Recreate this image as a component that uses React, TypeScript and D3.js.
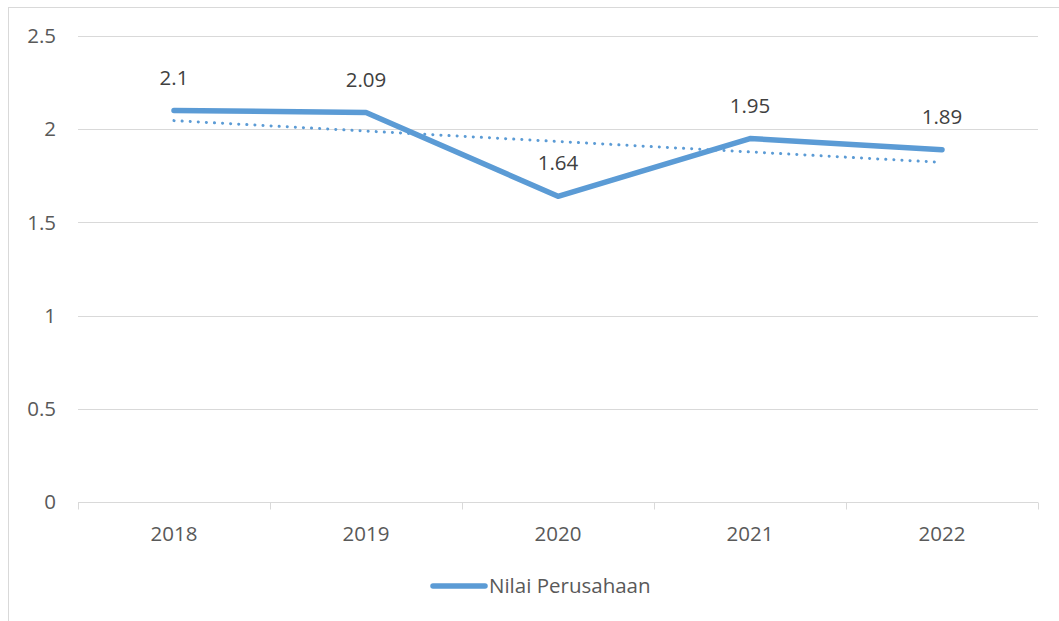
import React, { useEffect, useRef } from 'react';
import * as d3 from 'd3';

const years = ['2018', '2019', '2020', '2021', '2022'];
const nilaiPerusahaan = [2.1, 2.09, 1.64, 1.95, 1.89];
const yTicks = [0, 0.5, 1, 1.5, 2, 2.5];
const seriesName = 'Nilai Perusahaan';

const App = () => {
  const svgRef = useRef<SVGSVGElement | null>(null);

  useEffect(() => {
    const width = 1059;
    const height = 621;
    const margin = { top: 36, right: 21, bottom: 119, left: 78 };
    const innerW = width - margin.left - margin.right;
    const innerH = height - margin.top - margin.bottom;
    const font = "'Open Sans', 'Noto Sans', sans-serif";
    const fontSize = 20.5;
    const textColor = '#595959';
    const blue = '#5b9bd5';

    const root = d3.select(svgRef.current);
    root.selectAll('*').remove();

    // chart frame
    root.append('rect')
      .attr('x', 8.5)
      .attr('y', 7.5)
      .attr('width', 1100)
      .attr('height', 700)
      .attr('fill', '#fff')
      .attr('stroke', '#d9d9d9')
      .attr('stroke-width', 1);

    const svg = root.append('g')
      .attr('transform', `translate(${margin.left},${margin.top})`);

    const x = d3.scaleBand<string>().domain(years).range([0, innerW]);
    const y = d3.scaleLinear().domain([0, 2.5]).range([innerH, 0]);
    const cx = (d: string) => (x(d) as number) + x.bandwidth() / 2;

    // gridlines
    svg.append('g')
      .selectAll('line')
      .data(yTicks.filter(t => t > 0))
      .enter()
      .append('line')
      .attr('x1', 0)
      .attr('x2', innerW)
      .attr('y1', d => Math.round(y(d)) + 0.5)
      .attr('y2', d => Math.round(y(d)) + 0.5)
      .attr('stroke', '#d9d9d9')
      .attr('stroke-width', 1);

    // y labels
    svg.append('g')
      .selectAll('text')
      .data(yTicks)
      .enter()
      .append('text')
      .attr('x', -22)
      .attr('y', d => y(d))
      .attr('dy', '0.35em')
      .attr('text-anchor', 'end')
      .attr('font-family', font)
      .attr('font-size', fontSize)
      .attr('fill', textColor)
      .text(d => String(d));

    // x axis
    const xAxis = svg.append('g')
      .attr('transform', `translate(0,${Math.round(innerH) + 0.5})`);
    xAxis.append('line')
      .attr('x1', 0)
      .attr('x2', innerW)
      .attr('stroke', '#d9d9d9')
      .attr('stroke-width', 1);
    const boundaries = years.map(d => x(d) as number).concat([innerW]);
    xAxis.selectAll('line.tick')
      .data(boundaries)
      .enter()
      .append('line')
      .attr('class', 'tick')
      .attr('x1', d => Math.round(d) + 0.5)
      .attr('x2', d => Math.round(d) + 0.5)
      .attr('y1', 0)
      .attr('y2', 7)
      .attr('stroke', '#d9d9d9');
    xAxis.selectAll('text')
      .data(years)
      .enter()
      .append('text')
      .attr('x', d => cx(d))
      .attr('y', 31)
      .attr('dy', '0.35em')
      .attr('text-anchor', 'middle')
      .attr('font-family', font)
      .attr('font-size', fontSize)
      .attr('fill', textColor)
      .text(d => d);

    // linear trendline (least squares over the series)
    const idx = nilaiPerusahaan.map((_, i) => i);
    const mx = d3.mean(idx) as number;
    const my = d3.mean(nilaiPerusahaan) as number;
    const slope =
      (d3.sum(idx, i => (i - mx) * (nilaiPerusahaan[i] - my)) as number) /
      (d3.sum(idx, i => (i - mx) * (i - mx)) as number);
    const trend = years.map((d, i) => ({ year: d, v: my + slope * (i - mx) }));

    svg.append('path')
      .datum(trend)
      .attr('d', d3.line<{ year: string; v: number }>().x(d => cx(d.year)).y(d => y(d.v)))
      .attr('fill', 'none')
      .attr('stroke', blue)
      .attr('stroke-width', 3)
      .attr('stroke-linecap', 'round')
      .attr('stroke-dasharray', '0.1 8');

    // main series
    const points = years.map((d, i) => ({ year: d, v: nilaiPerusahaan[i] }));
    svg.append('path')
      .datum(points)
      .attr('d', d3.line<{ year: string; v: number }>().x(d => cx(d.year)).y(d => y(d.v)))
      .attr('fill', 'none')
      .attr('stroke', blue)
      .attr('stroke-width', 5.5)
      .attr('stroke-linecap', 'round')
      .attr('stroke-linejoin', 'round');

    // data labels
    svg.append('g')
      .selectAll('text')
      .data(points)
      .enter()
      .append('text')
      .attr('x', d => cx(d.year))
      .attr('y', d => y(d.v) - 33)
      .attr('dy', '0.35em')
      .attr('text-anchor', 'middle')
      .attr('font-family', font)
      .attr('font-size', fontSize)
      .attr('fill', '#404040')
      .text(d => String(d.v));

    // legend
    const legend = root.append('g').attr('transform', 'translate(431,586)');
    legend.append('line')
      .attr('x1', 2)
      .attr('x2', 54)
      .attr('stroke', blue)
      .attr('stroke-width', 5.5)
      .attr('stroke-linecap', 'round');
    legend.append('text')
      .attr('x', 58)
      .attr('y', 0)
      .attr('dy', '0.35em')
      .attr('font-family', font)
      .attr('font-size', fontSize)
      .attr('fill', textColor)
      .text(seriesName);
  }, []);

  return (
    <svg
      ref={svgRef}
      width={1059}
      height={621}
      style={{ position: 'absolute', left: 0, top: 0, display: 'block' }}
    />
  );
};

export default App;
